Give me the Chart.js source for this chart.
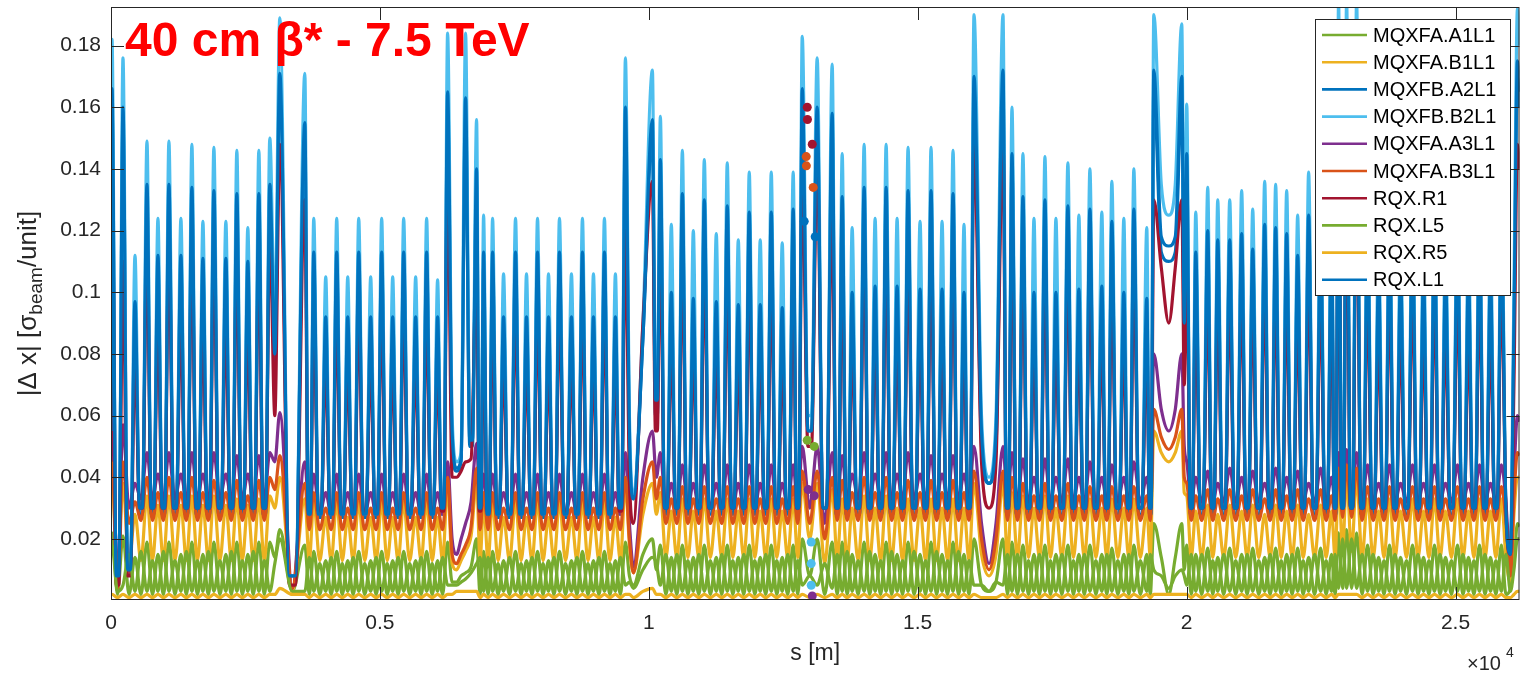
<!DOCTYPE html>
<html>
<head>
<meta charset="utf-8">
<script src="https://cdn.jsdelivr.net/npm/chart.js@4.4.0/dist/chart.umd.min.js"></script>
<style>
  html, body { margin: 0; padding: 0; background: #fff; }
  canvas { display: block; }
</style>
</head>
<body>
<canvas id="dxChart" width="1524" height="673"></canvas>
<script>
// s position [m] of every quadrupole peak, one line per region
const peakS = [
  19, 223,
  446, 669, 873, 1077, 1300, 1504, 1709, 1913, 2136, 2340, 2544, 2749, 2953,
  3139,
  3604, 3770, 3993, 4197, 4402, 4606, 4829, 5033, 5238, 5442, 5665, 5869, 6073,
  6259, 6426, 6593, 6798,
  6928, 7095, 7299, 7522, 7726, 7931, 8135, 8339, 8562, 8766, 8971, 9175, 9379,
  9565, 9714, 10067, 10215,
  10419, 10624, 10828, 11032, 11255, 11459, 11664, 11868, 12072, 12277, 12481, 12685,
  12853, 13131, 13410,
  13596, 13781, 14004, 14208, 14413, 14617, 14821, 15044, 15248, 15453, 15657, 15861,
  16047, 16326, 16586,
  16753, 16957, 17162, 17366, 17570, 17793, 17997, 18202, 18424, 18610, 18833, 19019, 19260,
  19390, 19669, 19910, 20003,
  20170, 20393, 20579, 20802, 21024, 21229, 21452, 21656, 21861, 22065, 22269, 22492, 22696,
  22826, 22975, 23161,
  23365, 23570, 23773, 23978, 24201, 24405, 24609, 24814, 25037, 25241, 25446, 25650, 25854,
  26021, 26152
];
const sMax = 26190;

// |dx| in 1e-3 sigma_beam/unit: value at s=0, then (peak, following trough) for every peak
const valA1L1 = [20,
  22,2, 21,2,
  14,2, 19,2, 15,2, 19,2, 15,2, 19,2, 15,2, 19,2, 15,2, 19,2, 15,2, 19,2, 19,14,
  23,3,
  18,2, 16,2, 13,2, 16,2, 13,2, 16,2, 13,2, 16,2, 13,2, 16,2, 13,2, 16,2, 13,2,
  19,6, 6,8, 9,11, 20,2,
  16,2, 16,2, 13,2, 16,2, 13,2, 16,2, 13,2, 16,2, 13,2, 16,2, 13,2, 16,2, 13,2,
  19,8, 5,15, 20,10, 18,2,
  14,2, 18,2, 14,2, 18,2, 14,2, 18,2, 14,2, 18,2, 14,2, 18,2, 14,2, 18,2,
  20,8, 20,2, 19,2,
  19,2, 15,2, 19,2, 15,2, 19,2, 15,2, 19,2, 15,2, 19,2, 15,2, 19,2, 15,2,
  20,5, 3,6, 20,2,
  19,2, 18,2, 15,2, 18,2, 15,2, 18,2, 15,2, 18,2, 15,2, 17,2, 15,2, 18,2, 15,2,
  25,14, 2,14, 25,10, 18,2,
  15,2, 17,2, 14,2, 17,2, 15,2, 17,2, 14,2, 17,2, 15,2, 17,2, 14,2, 17,2, 15,2,
  22,4, 23,4, 22,2,
  18,2, 14,2, 18,2, 14,2, 18,2, 14,2, 18,2, 14,2, 18,2, 14,2, 18,2, 14,2, 18,2,
  4,12, 25,24];

const valB1L1 = [38,
  40,4, 38,12,
  28,13, 34,13, 31,13, 34,13, 31,13, 34,13, 31,13, 34,13, 31,13, 33,13, 31,13, 33,13, 34,30,
  40,3,
  33,13, 32,13, 27,13, 32,13, 27,13, 32,13, 27,13, 32,13, 27,13, 32,13, 27,13, 32,13, 27,13,
  37,12, 10,13, 16,21, 38,13,
  32,13, 32,13, 27,13, 32,13, 27,13, 32,13, 27,13, 32,13, 27,13, 32,13, 27,13, 32,13, 27,13,
  38,18, 9,28, 38,28, 35,14,
  29,14, 33,14, 29,14, 33,14, 29,14, 33,14, 29,14, 33,14, 29,14, 33,14, 29,14, 33,14,
  38,20, 38,12, 36,14,
  33,13, 30,13, 34,13, 30,13, 34,13, 30,13, 33,13, 30,13, 33,13, 30,13, 33,13, 30,13,
  38,15, 8,15, 38,14,
  35,14, 34,14, 30,14, 34,14, 30,14, 34,14, 30,14, 33,14, 30,14, 33,14, 30,14, 33,14, 30,14,
  55,48, 45,48, 55,35, 34,14,
  29,14, 31,14, 28,14, 31,14, 29,14, 31,14, 28,14, 31,14, 29,14, 31,14, 28,14, 31,14, 29,14,
  40,16, 40,16, 40,14,
  33,14, 29,14, 33,14, 29,14, 33,14, 29,14, 33,14, 29,14, 33,14, 29,14, 33,14, 29,14, 33,14,
  6,28, 40,40];

const valA2L1 = [55,
  160,8, 155,10,
  92,28, 128,28, 106,28, 128,28, 106,28, 127,28, 105,28, 126,28, 105,28, 125,28, 104,28, 125,28, 130,75,
  165,8,
  150,27, 108,27, 88,27, 108,27, 88,27, 108,27, 88,27, 108,27, 88,27, 108,27, 88,27, 108,27, 88,28,
  160,50, 42,45, 158,50, 135,28,
  108,27, 108,27, 88,27, 108,27, 88,27, 108,27, 88,27, 108,27, 88,27, 108,27, 88,27, 108,27, 88,28,
  155,50, 33,85, 150,60, 138,28,
  95,28, 126,28, 93,28, 124,28, 92,28, 122,28, 91,28, 120,28, 91,28, 120,28, 90,28, 121,28,
  160,55, 155,28, 152,28,
  125,28, 95,28, 128,28, 97,28, 128,28, 97,28, 127,28, 96,28, 127,28, 96,28, 126,28, 95,28,
  165,50, 38,50, 166,28,
  140,28, 125,28, 95,28, 124,28, 95,28, 122,28, 96,28, 121,28, 97,28, 118,28, 95,28, 121,28, 93,28,
  166,113, 110,113, 164,85, 140,28,
  108,28, 115,28, 112,28, 112,28, 114,28, 109,28, 117,28, 116,28, 114,28, 107,28, 120,28, 113,28, 116,28,
  170,30, 170,30, 170,28,
  116,28, 100,28, 116,28, 100,28, 116,28, 100,28, 116,28, 100,28, 116,28, 100,28, 116,28, 100,28, 116,28,
  15,85, 170,160];

const valB2L1 = [60,
  182,8, 176,10,
  112,30, 149,30, 124,30, 149,30, 124,30, 148,30, 123,30, 147,30, 123,30, 146,30, 121,30, 146,30, 150,90,
  189,8,
  171,28, 124,28, 105,28, 124,28, 105,28, 124,28, 105,28, 124,28, 105,28, 124,28, 105,28, 124,28, 104,30,
  184,60, 45,48, 184,55, 156,30,
  125,28, 124,28, 106,28, 124,28, 106,28, 124,28, 106,28, 124,28, 106,28, 124,28, 106,28, 124,28, 106,30,
  176,60, 35,90, 172,70, 157,30,
  122,30, 146,30, 120,30, 143,30, 119,30, 142,30, 117,30, 139,30, 117,30, 139,30, 116,30, 139,30,
  183,60, 176,30, 174,30,
  145,30, 121,30, 148,30, 124,30, 148,30, 124,30, 147,30, 123,30, 147,30, 123,30, 146,30, 122,30,
  190,60, 40,60, 190,30,
  160,30, 145,30, 124,30, 144,30, 124,30, 142,30, 125,30, 140,30, 126,30, 136,30, 124,30, 140,30, 121,30,
  190,135, 125,135, 187,100, 161,30,
  126,30, 134,30, 130,30, 130,30, 133,30, 127,30, 136,30, 135,30, 133,30, 125,30, 139,30, 132,30, 135,30,
  195,30, 195,30, 195,30,
  135,30, 120,30, 135,30, 120,30, 135,30, 120,30, 135,30, 120,30, 135,30, 120,30, 135,30, 120,30, 135,30,
  20,100, 192,180];

const valA3L1 = [50,
  58,5, 57,30,
  38,33, 48,33, 41,33, 48,33, 41,33, 48,33, 41,33, 48,33, 41,33, 47,33, 41,33, 47,33, 48,45,
  61,4,
  45,28, 41,28, 35,28, 41,28, 35,28, 41,28, 35,28, 41,28, 35,28, 41,28, 35,28, 41,28, 35,28,
  45,20, 15,20, 25,32, 51,30,
  41,28, 41,28, 35,28, 41,28, 35,28, 41,28, 35,28, 41,28, 35,28, 41,28, 35,28, 41,28, 35,28,
  48,25, 11,40, 55,40, 48,30,
  38,30, 44,30, 38,30, 44,30, 38,30, 44,30, 38,30, 44,30, 38,30, 44,30, 38,30, 44,30,
  50,30, 50,25, 48,32,
  47,33, 41,33, 48,33, 41,33, 48,33, 41,33, 48,33, 41,33, 47,33, 41,33, 47,33, 41,33,
  50,25, 12,25, 50,32,
  48,32, 46,32, 40,32, 46,32, 40,32, 46,32, 40,32, 45,32, 40,32, 44,32, 40,32, 45,32, 40,32,
  80,62, 55,62, 80,50, 45,32,
  40,32, 42,32, 38,32, 43,32, 40,32, 42,32, 38,32, 43,32, 40,32, 42,32, 38,32, 43,32, 40,32,
  48,33, 49,33, 48,32,
  44,32, 38,32, 44,32, 38,32, 44,32, 38,32, 44,32, 38,32, 44,32, 38,32, 44,32, 38,32, 44,32,
  10,40, 60,58];

const valB3L1 = [40,
  45,4, 45,25,
  32,26, 40,26, 35,26, 40,26, 35,26, 40,26, 35,26, 39,26, 35,26, 39,26, 34,26, 39,26, 40,36,
  47,4,
  38,23, 35,23, 30,23, 35,23, 30,23, 35,23, 30,23, 35,23, 30,23, 35,23, 30,23, 35,23, 30,23,
  40,15, 12,15, 18,24, 43,23,
  35,23, 35,23, 30,23, 35,23, 30,23, 35,23, 30,23, 35,23, 30,23, 35,23, 30,23, 35,23, 30,23,
  40,20, 9,33, 45,33, 40,25,
  33,25, 37,25, 33,25, 37,25, 33,25, 37,25, 33,25, 37,25, 33,25, 37,25, 33,25, 37,25,
  42,25, 42,20, 40,26,
  39,26, 35,26, 40,26, 35,26, 40,26, 35,26, 39,26, 35,26, 39,26, 35,26, 39,26, 35,26,
  42,20, 10,20, 42,26,
  40,26, 38,26, 34,26, 38,26, 34,26, 38,26, 34,26, 37,26, 34,26, 37,26, 34,26, 37,26, 34,26,
  62,53, 49,53, 62,40, 38,26,
  34,26, 36,26, 33,26, 36,26, 34,26, 36,26, 33,26, 36,26, 34,26, 36,26, 33,26, 36,26, 34,26,
  43,27, 44,27, 43,26,
  37,26, 33,26, 37,26, 33,26, 37,26, 33,26, 37,26, 33,26, 37,26, 33,26, 37,26, 33,26, 37,26,
  8,33, 48,47];

const valR1 = [45,
  142,5, 110,8,
  80,30, 117,30, 92,30, 117,30, 92,30, 116,30, 91,30, 115,30, 91,30, 114,30, 90,30, 114,30, 120,60,
  148,5,
  130,29, 95,29, 78,29, 95,29, 78,29, 95,29, 78,29, 95,29, 78,29, 95,29, 78,29, 95,29, 78,29,
  140,40, 40,42, 45,46, 110,29,
  95,29, 95,29, 78,29, 95,29, 78,29, 95,29, 78,29, 95,29, 78,29, 95,29, 78,29, 95,29, 78,29,
  120,40, 25,90, 136,55, 120,30,
  85,30, 112,30, 83,30, 110,30, 82,30, 108,30, 81,30, 106,30, 81,30, 106,30, 80,30, 107,30,
  140,50, 145,30, 130,30,
  112,30, 85,30, 115,30, 88,30, 115,30, 88,30, 114,30, 87,30, 114,30, 87,30, 113,30, 86,30,
  150,45, 30,45, 150,30,
  125,30, 112,30, 85,30, 111,30, 85,30, 110,30, 86,30, 108,30, 87,30, 105,30, 85,30, 108,30, 84,30,
  130,108, 90,108, 130,70, 115,30,
  95,30, 102,30, 99,30, 99,30, 101,30, 97,30, 104,30, 103,30, 101,30, 95,30, 106,30, 100,30, 103,30,
  150,30, 150,30, 150,30,
  103,30, 88,30, 103,30, 88,30, 103,30, 88,30, 103,30, 88,30, 103,30, 88,30, 103,30, 88,30, 103,30,
  15,70, 148,140];

const valL5 = [18,
  18,3, 5,15,
  3,16, 3,13, 3,16, 3,13, 3,16, 3,13, 3,16, 3,13, 3,16, 3,13, 3,16, 3,13, 3,12,
  20,3,
  3,14, 3,12, 3,14, 3,12, 3,14, 3,12, 3,14, 3,12, 3,14, 3,12, 3,14, 3,12, 3,14,
  5,5, 5,6, 7,9, 12,14,
  3,14, 3,12, 3,14, 3,12, 3,14, 3,12, 3,14, 3,12, 3,14, 3,12, 3,14, 3,12, 3,14,
  5,6, 4,10, 14,12, 5,15,
  3,15, 3,13, 3,15, 3,13, 3,15, 3,13, 3,15, 3,13, 3,15, 3,13, 3,15, 3,13,
  5,8, 5,12, 4,15,
  3,16, 3,13, 3,16, 3,13, 3,16, 3,13, 3,16, 3,13, 3,16, 3,13, 3,16, 3,13,
  5,5, 3,6, 5,15,
  3,15, 3,13, 3,15, 3,13, 3,15, 3,13, 3,15, 3,13, 3,15, 3,13, 3,15, 3,13, 3,15,
  10,8, 4,8, 10,8, 5,15,
  3,15, 3,13, 3,15, 3,13, 3,15, 3,13, 3,15, 3,13, 3,15, 3,13, 3,15, 3,13, 3,15,
  4,20, 4,20, 4,15,
  3,15, 3,13, 3,15, 3,13, 3,15, 3,13, 3,15, 3,13, 3,15, 3,13, 3,15, 3,13, 3,15,
  3,10, 20,20];

const valR5 = [2,
  2,1, 2,1,
  2,1, 2,1, 2,1, 2,1, 2,1, 2,1, 2,1, 2,1, 2,1, 2,1, 2,1, 2,1, 2,2,
  4,2,
  2,1, 2,1, 2,1, 2,1, 2,1, 2,1, 2,1, 2,1, 2,1, 2,1, 2,1, 2,1, 2,1,
  2,2, 3,3, 3,3, 3,1,
  2,1, 2,1, 2,1, 2,1, 2,1, 2,1, 2,1, 2,1, 2,1, 2,1, 2,1, 2,1, 2,1,
  2,2, 1,3, 4,2, 2,1,
  2,1, 2,1, 2,1, 2,1, 2,1, 2,1, 2,1, 2,1, 2,1, 2,1, 2,1, 2,1,
  2,1, 2,1, 2,1,
  2,1, 2,1, 2,1, 2,1, 2,1, 2,1, 2,1, 2,1, 2,1, 2,1, 2,1, 2,1,
  2,1, 1,1, 2,1,
  2,1, 2,1, 2,1, 2,1, 2,1, 2,1, 2,1, 2,1, 2,1, 2,1, 2,1, 2,1, 2,1,
  2,2, 2,2, 2,2, 2,1,
  2,1, 2,1, 2,1, 2,1, 2,1, 2,1, 2,1, 2,1, 2,1, 2,1, 2,1, 2,1, 2,1,
  2,2, 2,2, 2,1,
  2,1, 2,1, 2,1, 2,1, 2,1, 2,1, 2,1, 2,1, 2,1, 2,1, 2,1, 2,1, 2,1,
  1,2, 3,3];

const valL1 = [55,
  166,8, 160,10,
  97,30, 135,30, 112,30, 135,30, 112,30, 134,30, 111,30, 133,30, 111,30, 132,30, 110,30, 132,30, 135,80,
  171,8,
  155,28, 113,28, 92,28, 113,28, 92,28, 113,28, 92,28, 113,28, 92,28, 113,28, 92,28, 113,28, 92,30,
  165,55, 43,46, 163,52, 140,30,
  113,28, 113,28, 92,28, 113,28, 92,28, 113,28, 92,28, 113,28, 92,28, 113,28, 92,28, 113,28, 92,30,
  160,55, 33,85, 156,65, 143,30,
  100,30, 132,30, 98,30, 130,30, 97,30, 128,30, 96,30, 126,30, 96,30, 126,30, 95,30, 127,30,
  166,55, 160,30, 158,30,
  131,30, 100,30, 134,30, 102,30, 134,30, 102,30, 133,30, 101,30, 133,30, 101,30, 132,30, 100,30,
  170,55, 38,55, 172,30,
  145,30, 131,30, 100,30, 130,30, 100,30, 128,30, 101,30, 127,30, 102,30, 123,30, 100,30, 127,30, 98,30,
  172,118, 115,118, 170,90, 145,30,
  113,30, 120,30, 117,30, 117,30, 119,30, 114,30, 122,30, 121,30, 119,30, 112,30, 125,30, 118,30, 121,30,
  175,30, 175,30, 175,30,
  121,30, 105,30, 121,30, 105,30, 121,30, 105,30, 121,30, 105,30, 121,30, 105,30, 121,30, 105,30, 121,30,
  15,90, 175,165];

// isolated markers near s = 1.3e4 m: [s, |dx|] per coloured series
const dotsR1   = [[12946, 0.160], [12950, 0.156], [13039, 0.148]];
const dotsB3L1 = [[12927, 0.144], [12930, 0.141], [13057, 0.134]];
const dotsL1   = [[12890, 0.123], [13094, 0.118]];
const dotsA3L1 = [[12964, 0.036], [13076, 0.034], [13039, 0.0015]];
const dotsA1L1 = [[12946, 0.052], [13076, 0.050]];
const dotsB2L1 = [[13020, 0.019], [13020, 0.012], [13020, 0.005]];

const seriesNames = ['MQXFA.A1L1', 'MQXFA.B1L1', 'MQXFB.A2L1', 'MQXFB.B2L1', 'MQXFA.A3L1',
                     'MQXFA.B3L1', 'RQX.R1', 'RQX.L5', 'RQX.R5', 'RQX.L1'];
const seriesValues = [valA1L1, valB1L1, valA2L1, valB2L1, valA3L1, valB3L1, valR1, valL5, valR5, valL1];
const seriesColors = ['#77AC30', '#EDB120', '#0072BD', '#4DBEEE', '#7E2F8E',
                      '#D95319', '#A2142F', '#77AC30', '#EDB120', '#0072BD'];
const spikySeries = ['MQXFB.A2L1', 'MQXFB.B2L1', 'RQX.R1', 'RQX.L1'];
const seriesDots = { 'MQXFA.A1L1': dotsA1L1, 'MQXFB.B2L1': dotsB2L1, 'MQXFA.A3L1': dotsA3L1,
                     'MQXFA.B3L1': dotsB3L1, 'RQX.R1': dotsR1, 'RQX.L1': dotsL1 };
const xTicks = [0, 5000, 10000, 15000, 20000, 25000];
const yTicks = [0.02, 0.04, 0.06, 0.08, 0.1, 0.12, 0.14, 0.16, 0.18];
const plotTitle = '40 cm \u03b2* - 7.5 TeV';

const fontFam = '"Liberation Sans", Arial, Helvetica, sans-serif';
const axisColor = '#262626';
const lineW = 3.2;
const spikeFrac = 0.38;   // narrow peaks for the large-amplitude magnets

seriesValues.forEach((v, i) => {
  if (v.length !== 2 * peakS.length + 1) console.error(seriesNames[i] + ' has ' + v.length + ' values');
});

// value at s=0, each peak, then the trough after it: one point mid-gap, or two
// shoulder points when the trough lies far below both neighbouring peaks
function buildPoints(vals, spiky) {
  const pts = [{ x: 0, y: vals[0] / 1000 }];
  peakS.forEach((s, i) => {
    const p = vals[1 + 2 * i], t = vals[2 + 2 * i];
    pts.push({ x: s, y: p / 1000 });
    if (i === peakS.length - 1) { pts.push({ x: sMax, y: t / 1000 }); return; }
    const gap = peakS[i + 1] - s;
    const deep = t < 0.5 * Math.min(p, vals[3 + 2 * i]);
    if (spiky && deep) {
      pts.push({ x: s + spikeFrac * gap, y: t / 1000 });
      pts.push({ x: peakS[i + 1] - spikeFrac * gap, y: t / 1000 });
    } else {
      pts.push({ x: s + gap / 2, y: t / 1000 });
    }
  });
  return pts;
}

const n = seriesNames.length;
const datasets = seriesNames.map((name, i) => ({
  label: name,
  data: buildPoints(seriesValues[i], spikySeries.includes(name)),
  borderColor: seriesColors[i],
  backgroundColor: seriesColors[i],
  borderWidth: lineW,
  pointRadius: 0,
  cubicInterpolationMode: 'monotone',
  clip: 0,
  order: 2 * n - 1 - i   // later series drawn on top, as in MATLAB
}));
seriesNames.forEach((name, i) => {
  if (!seriesDots[name]) return;
  datasets.push({
    label: name + ' markers',
    data: seriesDots[name].map(d => ({ x: d[0], y: d[1] })),
    showLine: false,
    borderColor: seriesColors[i],
    backgroundColor: seriesColors[i],
    pointRadius: 4.5,
    pointBorderWidth: 0,
    clip: 0,
    order: n - 1 - i
  });
});

function seg(ctx, x1, y1, x2, y2) {
  ctx.beginPath(); ctx.moveTo(x1, y1); ctx.lineTo(x2, y2); ctx.stroke();
}

const matlabFrame = {
  id: 'matlabFrame',
  afterDraw(chart) {
    const { ctx, chartArea: a, scales: { x, y } } = chart;
    ctx.save();

    // annotation
    ctx.fillStyle = '#ff0000';
    ctx.font = 'bold 48px ' + fontFam;
    ctx.textBaseline = 'alphabetic';
    ctx.textAlign = 'left';
    ctx.fillText(plotTitle, 125, 56);

    // box and inward ticks
    ctx.strokeStyle = axisColor;
    ctx.lineWidth = 1;
    ctx.strokeRect(a.left + 0.5, a.top + 0.5, a.right - a.left - 1, a.bottom - a.top - 1);
    const tl = 13;
    xTicks.forEach(v => {
      const px = Math.round(x.getPixelForValue(v)) + 0.5;
      seg(ctx, px, a.bottom, px, a.bottom - tl);
      seg(ctx, px, a.top, px, a.top + tl);
    });
    yTicks.forEach(v => {
      const py = Math.round(y.getPixelForValue(v)) + 0.5;
      seg(ctx, a.left, py, a.left + tl, py);
      seg(ctx, a.right, py, a.right - tl, py);
    });

    // axis labels
    ctx.fillStyle = axisColor;
    ctx.font = '23px ' + fontFam;
    ctx.textAlign = 'center';
    ctx.textBaseline = 'alphabetic';
    ctx.fillText('s [m]', (a.left + a.right) / 2, 660);

    ctx.textAlign = 'left';
    ctx.font = '20px ' + fontFam;
    ctx.fillText('\u00d710', 1467, 670);
    ctx.font = '14px ' + fontFam;
    ctx.fillText('4', 1506, 657);

    ctx.save();
    ctx.translate(29, (a.top + a.bottom) / 2);
    ctx.rotate(-Math.PI / 2);
    const p1 = '|\u0394 x| [\u03c3', p2 = 'beam', p3 = '/unit]';
    ctx.font = '26px ' + fontFam;
    const w1 = ctx.measureText(p1).width, w3 = ctx.measureText(p3).width;
    ctx.font = '19px ' + fontFam;
    const w2 = ctx.measureText(p2).width;
    let tx = -(w1 + w2 + w3) / 2;
    ctx.textBaseline = 'middle';
    ctx.font = '26px ' + fontFam; ctx.fillText(p1, tx, 0); tx += w1;
    ctx.font = '19px ' + fontFam; ctx.fillText(p2, tx, 8); tx += w2;
    ctx.font = '26px ' + fontFam; ctx.fillText(p3, tx, 0);
    ctx.restore();

    // legend box
    const lx = 1315, ly = 19, lw = 195, lh = 276;
    ctx.fillStyle = '#fff';
    ctx.fillRect(lx, ly, lw, lh);
    ctx.strokeStyle = axisColor;
    ctx.lineWidth = 1;
    ctx.strokeRect(lx + 0.5, ly + 0.5, lw, lh);
    ctx.font = '20px ' + fontFam;
    ctx.textBaseline = 'middle';
    ctx.textAlign = 'left';
    chart.data.datasets.slice(0, n).forEach((ds, i) => {
      const cy = ly + 16 + i * 27.2;
      ctx.strokeStyle = ds.borderColor;
      ctx.lineWidth = 2.6;
      seg(ctx, lx + 7, cy, lx + 52, cy);
      ctx.fillStyle = '#000';
      ctx.fillText(ds.label, lx + 58, cy + 1);
    });
    ctx.restore();
  }
};

new Chart(document.getElementById('dxChart').getContext('2d'), {
  type: 'line',
  data: { datasets },
  options: {
    responsive: false,
    animation: false,
    events: [],
    devicePixelRatio: 1,
    layout: { padding: { left: 0, right: 3, top: 7, bottom: 0 } },
    plugins: { legend: { display: false }, tooltip: { enabled: false } },
    scales: {
      x: {
        type: 'linear',
        min: 0,
        max: sMax,
        afterFit: s => { s.height = 73; s.paddingLeft = 0; s.paddingRight = 0; },
        afterBuildTicks: s => { s.ticks = xTicks.map(v => ({ value: v })); },
        grid: { display: false, drawTicks: false },
        border: { display: false },
        ticks: {
          autoSkip: false, maxRotation: 0, padding: 11,
          color: axisColor, font: { family: fontFam, size: 21 },
          callback: v => String(v / 10000)
        }
      },
      y: {
        type: 'linear',
        min: 0.0002,
        max: 0.1925,
        afterFit: s => { s.width = 111; s.paddingTop = 0; s.paddingBottom = 0; },
        afterBuildTicks: s => { s.ticks = yTicks.map(v => ({ value: v })); },
        grid: { display: false, drawTicks: false },
        border: { display: false },
        ticks: {
          autoSkip: false, padding: 10,
          color: axisColor, font: { family: fontFam, size: 21 },
          callback: v => String(+v.toFixed(2))
        }
      }
    }
  },
  plugins: [matlabFrame]
});
</script>
</body>
</html>
